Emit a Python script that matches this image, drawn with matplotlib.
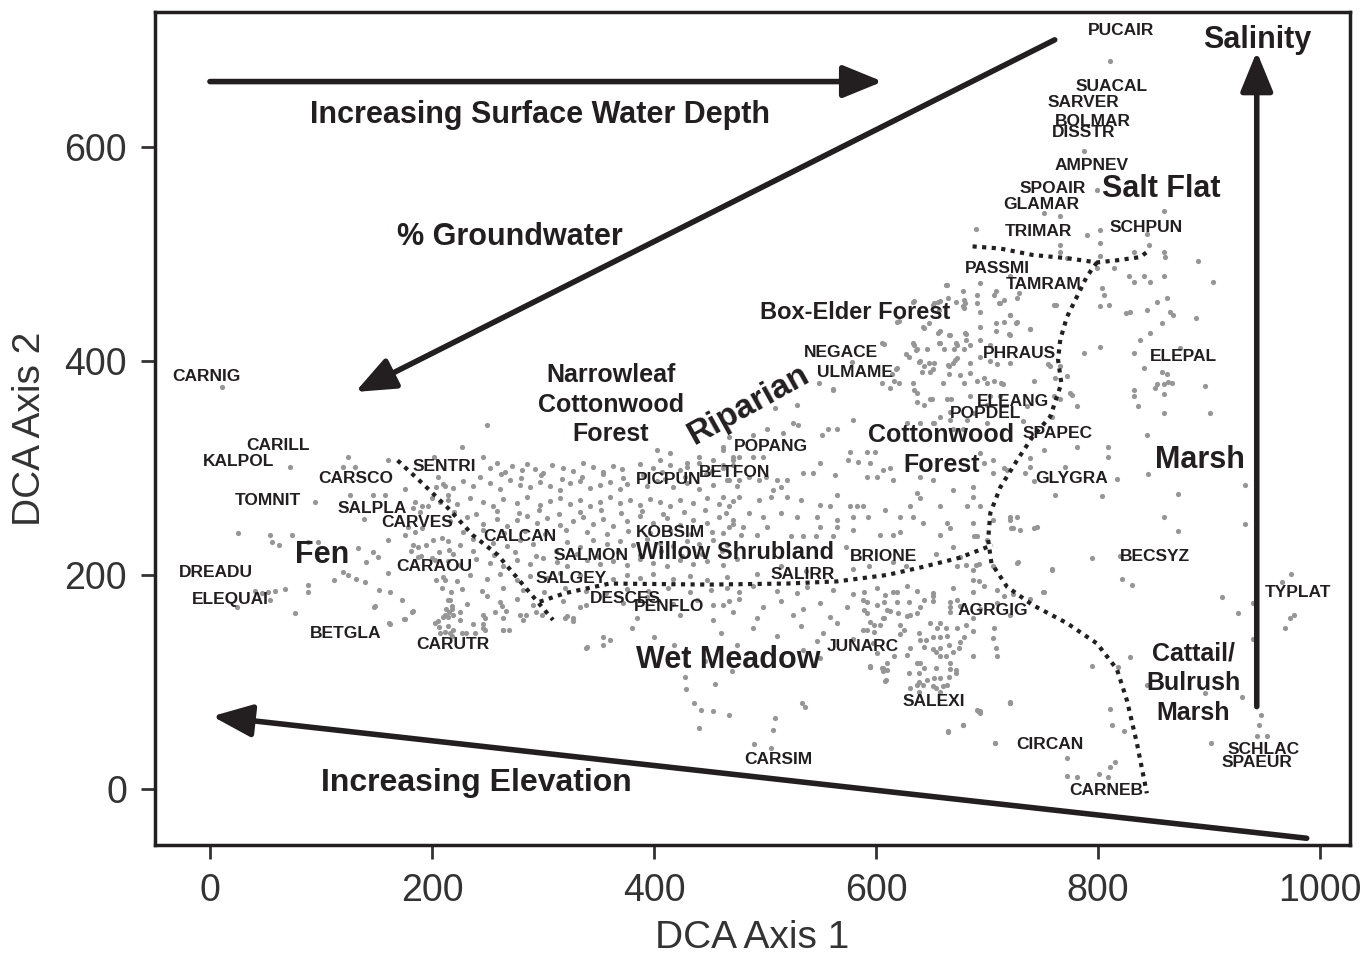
import matplotlib.pyplot as plt

plt.rcParams['font.family'] = ['Liberation Sans', 'DejaVu Sans']

# plot scores (DCA axis 1, DCA axis 2), grouped by vegetation zone
fen_pts = [(11,376),(72,301),(124,310),(120,301),(131,301),(95,268),(160,307),(147,275),(158,275),(126,275),
    (176,280),(139,252),(25,239),(54,237),(74,237),(56,231),(62,228),(88,231),(97,231),(133,225),(147,221),
    (151,217),(141,212),(160,233),(120,203),(124,200),(132,196),(140,193),(112,195),(160,202),(88,191),(88,184),
    (68,187),(59,185),(52,184),(41,185),(47,183),(54,177),(24,170),(77,164),(148,170),(152,186),(162,184),
    (173,177),(182,165),(175,159),(162,154),(185,268),(191,264),(200,272),(189,259),(202,310),(205,292),
    (204,282),(212,283),(214,275),(207,268),(183,263),(196,264),(178,245),(185,240),(191,244),(176,237),
    (183,228),(187,226),(195,228),(201,233),(209,235),(181,222),(190,218),(200,216),(206,221),(215,223),
    (187,217),(203,214),(204,195),(212,195),(209,188),(217,184),(214,177),(218,168),(212,163),(205,157),
    (214,152),(218,143)]

willow_pts = [(252,300),(259,305),(266,296),(272,302),(281,298),(286,304),(293,299),(300,295),(308,303),
    (318,300),(327,297),(336,305),(345,301),(354,296),(363,302),(371,299),(387,304),(399,300),(407,296),
    (414,303),(423,298),(430,301),(441,305),(452,297),(462,300),(471,303),
    (210,285),(219,281),(228,288),(237,283),(252,286),(261,280),(270,289),(279,284),(288,282),(297,287),
    (306,283),(315,279),(324,286),(333,288),(342,281),(351,284),(360,287),(369,280),(376,285),(394,283),
    (403,288),(417,282),(430,286),(441,280),(453,284),(466,289),(475,283),
    (214,270),(223,266),(234,272),(246,268),(255,264),(264,271),(277,267),(286,273),(297,265),(306,269),
    (315,272),(324,266),(333,270),(342,264),(351,268),(360,273),(369,267),(378,270),(387,265),(396,271),
    (405,268),(414,264),(423,270),(435,267),(448,272),(459,266),(471,269),
    (216,250),(232,254),(246,248),(259,252),(268,246),(277,251),(286,255),(295,249),(304,253),(315,247),
    (327,250),(336,254),(345,248),(354,252),(363,246),(376,250),(387,255),(399,249),(412,253),(423,247),
    (435,251),(448,249),(459,254),(471,248),
    (214,232),(225,228),(237,234),(255,230),(268,227),(279,233),(291,229),(322,231),(333,226),(345,233),
    (358,229),(369,232),(381,228),(394,234),(405,230),(417,227),(430,232),(441,229),(453,233),(466,228),
    (214,213),(225,209),(240,215),(252,211),(264,208),(277,214),(288,210),(300,216),(313,212),(322,208),
    (340,214),(351,210),(363,213),(376,209),(387,215),(399,211),(412,208),(423,214),(435,210),(448,213),
    (462,209),(475,215),
    (210,198),(223,194),(234,200),(250,196),(261,201),(277,195),(288,199),(304,197),(315,202),(333,200),
    (363,196),(376,200),(387,197),(399,201),(417,196),(432,199),(448,195),(466,198),
    (243,292),(262,294),(280,291),(298,293),(317,290),(335,292),(354,294),(372,291),(390,293),(410,290),
    (428,292),(447,294),
    (220,259),(240,257),(259,260),(278,258),(296,261),(314,257),(333,259),(352,261),(370,258),(389,260),
    (408,257),(427,259),(446,261),(465,258),
    (228,240),(246,242),(265,239),(284,241),(302,238),(321,242),(340,240),(358,238),(377,241),(396,239),
    (414,242),(433,238),(452,240),
    (219,220),(237,222),(256,219),(275,221),(294,218),(312,222),(331,220),(350,218),(368,221),(387,219),
    (406,222),(425,218),(443,220),(461,222),
    (250,340),(227,320),(246,310),(403,317),(414,314),(405,307),(430,305),(441,310),(453,307),(462,317),
    (471,307),(462,320),(471,310),(462,303),(477,310),(489,310),(498,310),(468,289),(477,289),(486,292),
    (495,289),(501,292),(511,289),
    (478,237),(493,237),(502,245),(523,236),(534,236),(546,236),(561,236),(573,226),(514,208),(493,201),
    (537,204),(579,206),(594,208),(615,212),(627,208),(654,220),(676,217),(688,236),(690,209)]

cottonwood_pts = [(561,373),(529,359),(509,356),(579,345),(557,336),(565,336),(551,331),(525,342),(530,340),
    (516,333),(502,336),(489,331),(468,329),(577,315),(575,307),(592,315),(599,315),(584,306),(595,305),
    (550,305),(543,295),(563,293),(534,295),(520,289),(514,282),(505,273),(613,300),(606,298),(615,289),
    (592,292),(601,292),(640,292),(651,289),(637,277),(640,272),(565,275),(550,265),(559,264),(577,264),
    (583,264),(588,264),(532,270),(520,273),(507,279),(495,270),(477,273),(468,264),(462,273),(514,258),
    (498,254),(486,258),(471,251),(480,245),(468,245),(462,239),(529,254),(547,254),(565,251),(579,254),
    (593,254),(608,261),(622,254),(631,264),(633,254),(550,245),(565,245),(579,242),(604,237),(615,237),
    (622,240),(642,249),(658,264),(664,249),(667,244),(658,237),(669,226),(669,279),(687,282),(687,273),
    (682,264),(694,264),(687,249),(691,236),(705,251),(700,233),(721,251),(723,244),(730,242),(637,370),
    (649,364),(664,364),(667,352),(640,342),(651,342),(658,348),(669,336),(678,336),(694,314),(697,305),
    (705,307),(705,295),(718,298),(739,301),(742,288),(727,254),(745,245)]

boxelder_pts = [(694,473),(678,465),(664,471),(691,462),(708,465),(706,462),(727,459),(711,454),(715,457),
    (691,454),(679,457),(679,449),(658,456),(652,454),(634,456),(760,452),(721,443),(694,446),(727,436),
    (715,436),(708,435),(694,432),(708,428),(681,425),(667,424),(658,428),(643,431),(619,436),(739,430),
    (720,425),(607,416),(634,415),(637,411),(646,411),(658,417),(673,415),(681,420),(685,415),(694,420),
    (703,415),(679,411),(670,411),(661,411),(630,404),(640,400),(652,398),(673,403),(669,398),(666,395),
    (643,395),(649,390),(619,393),(685,398),(703,400),(709,397),(694,404),(676,387),(685,389),(697,384),
    (691,381),(700,379),(706,381),(714,378),(679,379),(660,379),(616,381),(613,375),(634,373),(650,364),
    (637,362),(668,364),(685,367),(703,367),(712,367),(760,367),(761,384),(772,386),(775,370),(766,395),
    (755,397),(742,381),(643,359),(628,342),(652,342),(682,345),(667,345),(688,351),(700,359),(700,342),
    (732,344),(736,358),(690,523),(663,471),(633,455),(651,452),(656,455),(665,459),(657,448),(672,455),
    (678,451),(680,454),(621,437),(642,432),(648,435),(656,426),(666,424),(680,426),(672,417),(657,417),
    (633,417),(636,410),(627,406),(605,417),(639,399),(648,398),(665,396),(671,401),(651,392),(666,388),
    (641,390),(621,379),(633,379),(614,388),(605,379),(618,392),(578,399),(549,379),(561,374)]

saltflat_pts = [(811,680),(787,596),(799,560),(751,538),(766,535),(859,540),(790,518),(802,522),(802,510),
    (766,508),(766,502),(844,519),(846,508),(832,502),(859,502),(860,497),(890,493),(772,496),(802,498),
    (814,487),(799,487),(828,479),(832,474),(841,479),(847,474),(859,479),(904,474),(804,468),(805,462),
    (721,479),(729,463),(712,454),(762,452),(802,451),(810,452),(825,445),(829,446),(844,448),(853,455),
    (862,459),(868,443),(888,440),(721,443),(726,435),(739,430),(721,424),(847,426),(838,420),(858,435),
    (865,446),(787,407),(802,413),(832,407),(841,393),(862,388),(874,412),(757,395),(721,398),(858,390),
    (863,380),(851,375)]

marsh_pts = [(713,379),(777,368),(781,358),(766,364),(832,373),(832,367),(836,358),(853,378),(859,378),
    (867,379),(859,369),(859,351),(896,377),(901,351),(844,331),(759,348),(751,317),(781,320),(809,320),
    (809,310),(739,309),(715,300),(734,295),(770,301),(817,290),(845,294),(761,275),(804,274),(872,276),
    (932,284),(859,254),(872,241),(932,248),(721,254),(722,244),(742,244),(795,216),(820,218),(727,211),
    (759,206),(822,196),(831,191),(751,184),(912,179),(926,164),(940,174),(940,140),(829,123),(795,115),
    (818,114),(966,193),(974,201),(977,163),(973,160),(968,150),(721,80),(811,75),(813,60),(823,54),
    (772,29),(772,12),(781,11),(801,14),(809,11),(811,21),(815,25),(844,97),(896,90),(930,86),(902,43),
    (947,69),(945,60),(943,50),(952,50)]

meadow_pts = [(466,188),(477,184),(489,190),(511,185),(529,183),(538,189),(561,186),(579,182),(601,188),
    (615,184),(628,190),(637,185),(651,183),(669,188),(687,184),(709,186),(723,182),(739,178),
    (462,172),(471,165),(477,178),(493,160),(498,170),(514,176),(525,163),(534,168),(550,174),(559,161),
    (574,170),(588,177),(592,164),(601,172),(606,160),(610,167),(619,175),(628,162),(640,170),(651,176),
    (667,165),(676,171),(687,160),(694,168),(709,174),(721,163),
    (489,150),(511,143),(532,152),(547,138),(552,146),(565,155),(579,140),(588,149),(597,136),(604,153),
    (622,145),(640,139),(655,150),(664,143),(676,137),(687,148),(705,141),
    (534,130),(550,122),(595,115),(601,127),(606,110),(628,125),(640,118),(651,131),(667,112),(709,124),
    (216,177),(232,173),(250,180),(261,175),(277,178),(291,172),(318,176),(333,170),(372,174),(394,179),
    (417,173),(439,177),(453,172),(468,176),
    (214,161),(225,158),(246,163),(264,160),(282,158),(322,162),(327,157),(385,160),(423,163),(453,158),
    (246,150),(264,149),(354,142),(360,139),(340,133),(354,135),
    (227,187),(245,185),(264,188),(282,186),(301,184),(320,188),(339,185),(357,183),(376,187),(395,185),
    (413,188),(432,184),(451,186),
    (380,150),(400,142),(418,135),(430,128),(446,120),(460,146),(475,135),(490,120),(470,110),(455,98),
    (428,105),(429,93),(436,80),(442,74),(453,73),(468,69),(441,57),(509,66),(507,55),(490,42),(505,38),
    (533,80),(536,77),(595,114),(605,113),(610,111),(608,101),(694,73),(692,73),(678,60),(665,53),
    (707,43),(721,80),
    (149,171),(183,166),(176,159),(161,155),(203,155),(206,151),(207,146),(212,147),(216,146),(219,149),
    (227,146),(231,146),(239,146),(237,154),(246,154),(248,160),(248,149),(210,161),(215,165),(219,163),
    (225,165),(218,171),(213,168),(257,165),(263,171),(267,166),(264,149),(269,149),(279,163),(285,163),
    (294,165),(299,163),(320,160),(327,160),(339,172),(339,132),
    (673,208),(681,209),(693,210),(687,205),(705,208),(728,212),(759,205),(687,195),(693,194),(697,190),
    (750,184),(589,184),(608,181),(619,184),(592,175),(607,175),(630,175),(643,177),(651,180),(667,175),
    (673,177),(667,170),(715,180),(589,167),(613,166),(620,164),(631,163),(637,164),(595,156),(598,153),
    (607,160),(622,153),(625,149),(649,155),(658,155),(663,150),(673,150),(681,153),(706,150),(592,149),
    (598,147),(639,146),(651,142),(658,142),(645,139),(679,142),(643,133),(658,132),(666,135),(631,132),
    (654,128),(658,124),(663,124),(669,128),(675,132),(616,124),(687,124),(708,132),(595,114),(606,113),
    (610,118),(630,108),(637,118),(643,113),(639,108),(654,113),(667,118),(672,111),(672,108),(609,102),
    (639,100),(646,102),(652,104),(658,104),(666,105),(631,94),(637,97),(642,97),(651,96),(654,94),
    (660,96),(664,97),(639,91),(658,91),(691,74),(694,71),(721,81),(678,60),(665,54),(707,43)]

# species codes placed at their DCA centroids
species = ['PUCAIR','SUACAL','SARVER','BOLMAR','DISSTR','AMPNEV','SPOAIR','GLAMAR','TRIMAR','SCHPUN',
           'PASSMI','TAMRAM','NEGACE','ULMAME','PHRAUS','ELEPAL','CARNIG','ELEANG','POPDEL','SPAPEC',
           'CARILL','KALPOL','POPANG','SENTRI','BETFON','PICPUN','CARSCO','GLYGRA','TOMNIT','SALPLA',
           'CARVES','KOBSIM','CALCAN','SALMON','BRIONE','BECSYZ','CARAOU','DREADU','SALIRR','SALGEY',
           'TYPLAT','DESCES','ELEQUAI','PENFLO','AGRGIG','BETGLA','CARUTR','JUNARC','SALEXI','CIRCAN',
           'SCHLAC','SPAEUR','CARSIM','CARNEB']
species_x = [821,812,787,795,787,794,759,749,746,843,
             709,751,568,581,729,877,-3,723,699,764,
             61,26,505,211,473,413,131,776,52,146,
             187,415,279,343,607,851,202,5,534,325,
             980,374,18,414,705,122,219,588,652,757,
             949,943,512,807]
species_y = [709,656,641,624,613,583,561,546,521,525,
             486,471,408,389,407,404,385,362,351,332,
             321,306,320,301,296,289,290,290,270,262,
             249,240,236,218,217,217,208,202,200,197,
             184,178,177,171,167,145,135,133,82,42,
             37,25,28,-1]

# vegetation type and gradient labels
zone_text = ['Salinity', 'Salt Flat', 'Box-Elder Forest', 'Narrowleaf\nCottonwood\nForest', 'Riparian',
             'Cottonwood\nForest', 'Marsh', 'Willow Shrubland', 'Fen', 'Cattail/\nBulrush\nMarsh',
             'Wet Meadow', 'Increasing Surface Water Depth', '% Groundwater', 'Increasing Elevation']
zone_x = [943, 857, 581, 361, 485, 659, 892, 473, 101, 886, 467, 297, 270, 240]
zone_y = [700, 561, 445, 359, 359, 317, 307, 221, 219, 99, 121, 630, 516, 6]
zone_size = [22, 22, 17, 18, 24, 18, 22, 17, 22, 18, 22, 22, 22, 23]
zone_rot = [0, 0, 0, 0, 29, 0, 0, 0, 0, 0, 0, 0, 0, 0]

# gradient arrows: (tail, head)
arrows = [((0, 661), (606, 661)),
          ((761, 700), (131, 371)),
          ((988, -46), (2, 68)),
          ((943, 77), (943, 689))]

# dotted zone boundaries
fen_edge = [(169,307),(191,286),(214,263),(237,237),(259,219),(286,186),(309,158)]
willow_edge = [(297,175),(320,183),(342,188),(360,192),(450,191),(520,192),(565,194),(610,200),
               (640,207),(675,216),(705,228)]
marsh_edge = [(799,492),(790,479),(781,460),(772,441),(766,420),(764,401),(767,379),(757,348),(741,329),
              (727,307),(712,282),(703,258),(701,233),(704,211),(718,189),(741,172),(772,155),(799,136),
              (817,112),(826,83),(835,43),(844,-4)]
saltflat_edge = [(687,507),(712,505),(741,499),(772,496),(799,492),(817,494),(838,497),(847,504)]

ink = '#231f20'

fig = plt.figure(figsize=(13.71, 9.6), dpi=100)
ax = fig.add_axes([155/1371, 115/960, 1195/1371, 833/960])

all_pts = fen_pts + willow_pts + cottonwood_pts + boxelder_pts + saltflat_pts + marsh_pts + meadow_pts
ax.scatter([p[0] for p in all_pts], [p[1] for p in all_pts], s=14, color='#969696', linewidths=0, zorder=1)

for edge in [fen_edge, willow_edge, marsh_edge, saltflat_edge]:
    ax.plot([p[0] for p in edge], [p[1] for p in edge], color=ink, lw=3,
            linestyle=(0, (1, 1.3)), dash_capstyle='butt', zorder=2)

for tail, head in arrows:
    ax.annotate('', xy=head, xytext=tail,
                arrowprops=dict(arrowstyle='-|>,head_length=1.1,head_width=0.45', lw=4, color=ink,
                                mutation_scale=22, shrinkA=0, shrinkB=0), zorder=3)

for name, x, y in zip(species, species_x, species_y):
    ax.text(x, y, name, fontsize=12.5, fontweight='bold', color=ink, ha='center', va='center', zorder=4)

for t, x, y, fs, rot in zip(zone_text, zone_x, zone_y, zone_size, zone_rot):
    ax.text(x, y, t, fontsize=fs, fontweight='bold', color=ink, ha='center', va='center',
            rotation=rot, linespacing=1.3, zorder=4)

ax.set_xlim(-49.5, 1027)
ax.set_ylim(-52.3, 726)
ax.set_xticks([0, 200, 400, 600, 800, 1000])
ax.set_yticks([0, 200, 400, 600])
ax.tick_params(direction='out', length=10, width=2, labelsize=27, colors='#333333', pad=10)
for s in ax.spines.values():
    s.set_linewidth(2.5)
    s.set_color(ink)
ax.set_xlabel('DCA Axis 1', fontsize=28, color='#333333', labelpad=8)
ax.set_ylabel('DCA Axis 2', fontsize=28, color='#333333', labelpad=12)

plt.savefig('out.png', dpi=100)
